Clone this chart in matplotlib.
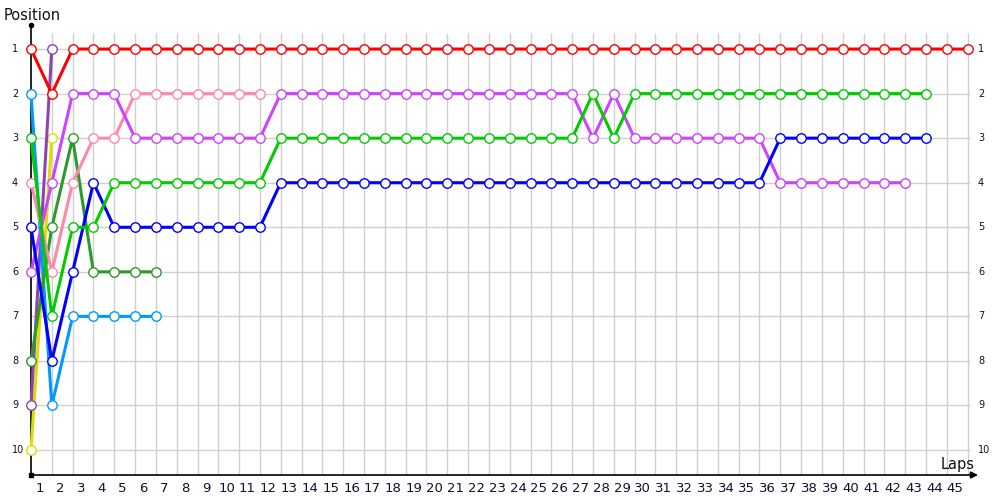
import matplotlib
matplotlib.use("Agg")
import matplotlib.pyplot as plt
import numpy as np

# ---- data: position per lap (lap 0 = grid) ----
red = [1, 2, 1, 1, 1, 1, 1, 1, 1, 1, 1, 1, 1, 1, 1, 1, 1, 1, 1, 1, 1, 1, 1, 1,
       1, 1, 1, 1, 1, 1, 1, 1, 1, 1, 1, 1, 1, 1, 1, 1, 1, 1, 1, 1, 1, 1]
dark_purple = [9, 1]
yellow = [10, 3]
light_blue = [2, 9, 7, 7, 7, 7, 7]
dark_green = [8, 5, 3, 6, 6, 6, 6]
pink = [4, 6, 4, 3, 3, 2, 2, 2, 2, 2, 2, 2]
light_green = [3, 7, 5, 5, 4, 4, 4, 4, 4, 4, 4, 4, 3, 3, 3, 3, 3, 3, 3, 3, 3, 3,
               3, 3, 3, 3, 3, 2, 3, 2, 2, 2, 2, 2, 2, 2, 2, 2, 2, 2, 2, 2, 2, 2]
blue = [5, 8, 6, 4, 5, 5, 5, 5, 5, 5, 5, 5, 4, 4, 4, 4, 4, 4, 4, 4, 4, 4, 4, 4,
        4, 4, 4, 4, 4, 4, 4, 4, 4, 4, 4, 4, 3, 3, 3, 3, 3, 3, 3, 3]
violet = [6, 4, 2, 2, 2, 3, 3, 3, 3, 3, 3, 3, 2, 2, 2, 2, 2, 2, 2, 2, 2, 2, 2, 2,
          2, 2, 2, 3, 2, 3, 3, 3, 3, 3, 3, 3, 4, 4, 4, 4, 4, 4, 4]

series = [
    (yellow, "#DDDD00"),
    (dark_purple, "#8E44AD"),
    (light_blue, "#0099FF"),
    (dark_green, "#2A9A2A"),
    (pink, "#FF88AA"),
    (violet, "#CC44FF"),
    (blue, "#0000FF"),
    (light_green, "#00CC00"),
    (red, "#FF0000"),
]

lap_labels = [str(i) for i in range(1, 46)]
positions = list(range(1, 11))

# ---- figure ----
fig = plt.figure(figsize=(10, 5), dpi=100)
ax = fig.add_axes([0.031, 0.05, 0.947, 0.90])
ax.set_xlim(0, 45.5)
ax.set_ylim(10.56, 0.46)
ax.axis("off")

laps_grid = np.arange(1, 46)
ax.vlines(laps_grid, 10.56, 0.64, color="#D0D0D0", lw=1.0, zorder=1)
ax.hlines(positions, 0, 45.1, color="#D0D0D0", lw=1.0, zorder=1)

# axes lines
ax.plot([0, 0], [10.56, 0.46], color="black", lw=1.2, zorder=2, clip_on=False)
ax.plot([0], [0.46], marker="o", ms=3, color="black", clip_on=False, zorder=3)
ax.plot([0], [10.56], marker="s", ms=3, color="black", clip_on=False, zorder=3)
ax.annotate("", xy=(45.5, 10.56), xytext=(0, 10.56),
            arrowprops=dict(arrowstyle="-|>", color="black", lw=1.2,
                            mutation_scale=10, shrinkA=0, shrinkB=0),
            annotation_clip=False, zorder=2)

for data, col in series:
    x = np.arange(len(data))
    ax.plot(x, data, color=col, lw=2.2, marker="o", ms=6.8,
            mfc="white", mec=col, mew=1.0, zorder=4, clip_on=False,
            solid_joinstyle="miter")

# tick labels
for i, lab in enumerate(lap_labels):
    ax.text(i + 0.4, 10.71, lab, ha="center", va="top", fontsize=9.5,
            color="#101030", clip_on=False)
for p in positions:
    ax.annotate(str(p), xy=(0, p), xytext=(-19, 0), textcoords="offset pixels",
                ha="left", va="center", fontsize=7, color="#101020",
                annotation_clip=False)
    ax.annotate(str(p), xy=(45.5, p), xytext=(0, 0), textcoords="offset pixels",
                ha="left", va="center", fontsize=7, color="#101020",
                annotation_clip=False)

fig.text(0.004, 0.968, "Position", ha="left", va="center", fontsize=10.5,
         color="#101010")
fig.text(0.975, 0.072, "Laps", ha="right", va="center", fontsize=10.5,
         color="#101010")

fig.savefig("out.png", dpi=100, facecolor="white")
